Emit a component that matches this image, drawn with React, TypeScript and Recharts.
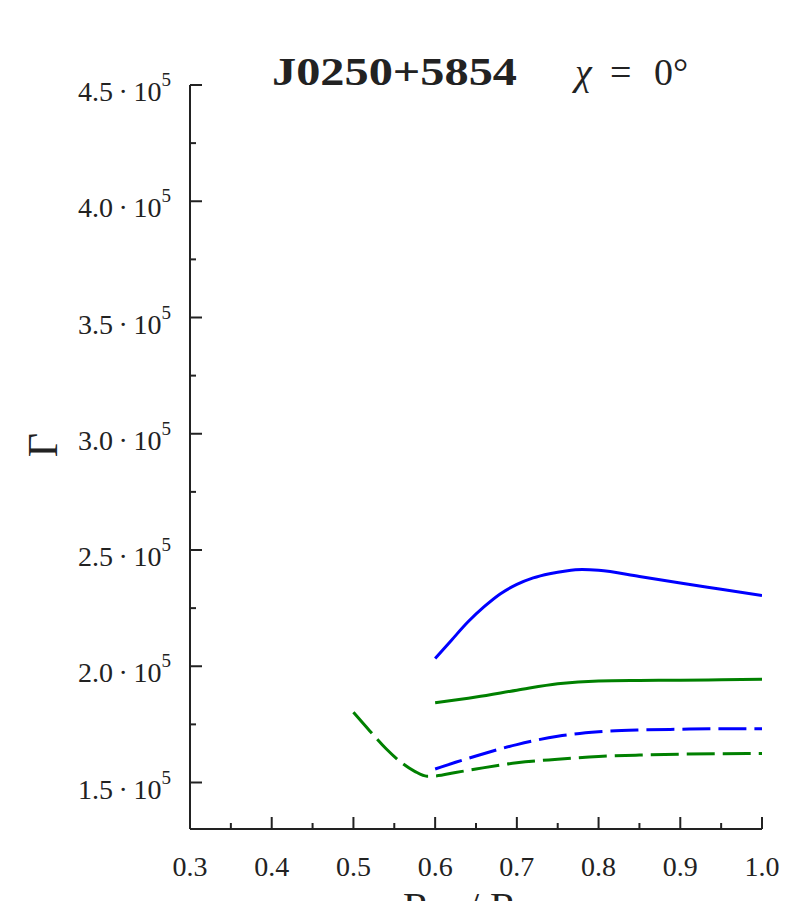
import React from "react";
import { Line, LineChart, XAxis, YAxis } from "recharts";

// Γ (in units of 1e5) vs R/R_lc
const blueSolidX = [0.6, 0.62, 0.64, 0.66, 0.68, 0.7, 0.72, 0.74, 0.76, 0.78, 0.8, 0.85, 0.9, 0.95, 1.0];
const blueSolidY = [2.033, 2.112, 2.19, 2.256, 2.312, 2.352, 2.38, 2.398, 2.41, 2.416, 2.413, 2.386, 2.358, 2.331, 2.304];

const greenSolidX = [0.6, 0.65, 0.7, 0.75, 0.8, 0.85, 0.9, 0.95, 1.0];
const greenSolidY = [1.843, 1.868, 1.897, 1.925, 1.937, 1.939, 1.94, 1.942, 1.944];

const blueDashedX = [0.6, 0.625, 0.65, 0.7, 0.75, 0.8, 0.85, 0.9, 0.95, 1.0];
const blueDashedY = [1.558, 1.587, 1.614, 1.663, 1.699, 1.718, 1.726, 1.729, 1.731, 1.731];

const greenDashedX = [0.5, 0.52, 0.54, 0.56, 0.575, 0.59, 0.6, 0.625, 0.65, 0.7, 0.75, 0.8, 0.85, 0.9, 0.95, 1.0];
const greenDashedY = [1.802, 1.722, 1.645, 1.582, 1.548, 1.527, 1.528, 1.543, 1.558, 1.585, 1.6, 1.612, 1.618, 1.622, 1.624, 1.625];

const xTicks = [0.3, 0.35, 0.4, 0.45, 0.5, 0.55, 0.6, 0.65, 0.7, 0.75, 0.8, 0.85, 0.9, 0.95, 1.0];
const xMajor = ["0.3", "0.4", "0.5", "0.6", "0.7", "0.8", "0.9", "1.0"];
const yTicks = [1.5, 1.75, 2.0, 2.25, 2.5, 2.75, 3.0, 3.25, 3.5, 3.75, 4.0, 4.25, 4.5].map((v) => v * 1e5);
const yMajor = ["1.5", "2.0", "2.5", "3.0", "3.5", "4.0", "4.5"];

const toPoints = (xs: number[], ys: number[]) => xs.map((x, i) => ({ x, y: ys[i] * 1e5 }));

const FONT = "Liberation Serif";
const INK = "#222";

function XTick(props: any) {
  const { x, y, payload } = props;
  const label = payload.value.toFixed(1);
  const major = xMajor.includes(label) && Math.abs(payload.value * 10 - Math.round(payload.value * 10)) < 1e-6;
  return (
    <g>
      <line x1={x} x2={x} y1={y} y2={y - (major ? 12 : 6)} stroke={INK} strokeWidth={2} />
      {major && (
        <text x={x} y={y + 47} textAnchor="middle" fontSize={28} fontFamily={FONT} fill={INK}>
          {label}
        </text>
      )}
    </g>
  );
}

function YTick(props: any) {
  const { x, y, payload } = props;
  const v = payload.value / 1e5;
  const label = v.toFixed(1);
  const major = yMajor.includes(label) && Math.abs(v * 2 - Math.round(v * 2)) < 1e-6;
  return (
    <g>
      <line x1={x} x2={x + (major ? 12 : 6)} y1={y} y2={y} stroke={INK} strokeWidth={2} />
      {major && (
        <text x={x - 19} y={y + 16} textAnchor="end" fontSize={28} fontFamily={FONT} fill={INK}>
          {label}
          {"\u2009·\u2009"}10
          <tspan dy={-15} fontSize={19}>
            5
          </tspan>
        </text>
      )}
    </g>
  );
}

export default function App() {
  return (
    <div style={{ position: "fixed", left: 0, top: 0, width: 804, height: 901, background: "#fff" }}>
      <LineChart width={804} height={901} margin={{ top: 85, right: 42, bottom: 12, left: 90 }}>
        <XAxis
          type="number"
          dataKey="x"
          domain={[0.3, 1.0]}
          ticks={xTicks}
          interval={0}
          height={60}
          tickSize={0}
          tickMargin={0}
          tickLine={false}
          axisLine={{ stroke: INK, strokeWidth: 2 }}
          tick={<XTick />}
          allowDataOverflow
        />
        <YAxis
          type="number"
          dataKey="y"
          domain={[130000, 450000]}
          ticks={yTicks}
          interval={0}
          width={100}
          tickSize={0}
          tickMargin={0}
          tickLine={false}
          axisLine={{ stroke: INK, strokeWidth: 2 }}
          tick={<YTick />}
          allowDataOverflow
        />
        <Line data={toPoints(blueSolidX, blueSolidY)} dataKey="y" type="monotone" stroke="#0000ff" strokeWidth={3} dot={false} isAnimationActive={false} />
        <Line data={toPoints(greenSolidX, greenSolidY)} dataKey="y" type="monotone" stroke="#008000" strokeWidth={3} dot={false} isAnimationActive={false} />
        <Line data={toPoints(blueDashedX, blueDashedY)} dataKey="y" type="monotone" stroke="#0000ff" strokeWidth={3} strokeDasharray="28 8" dot={false} isAnimationActive={false} />
        <Line data={toPoints(greenDashedX, greenDashedY)} dataKey="y" type="monotone" stroke="#008000" strokeWidth={3} strokeDasharray="28 8" dot={false} isAnimationActive={false} />
      </LineChart>
      <svg width={804} height={901} style={{ position: "absolute", left: 0, top: 0, pointerEvents: "none" }}>
        <text x={272} y={85} fontSize={40} fontWeight="bold" fontFamily={FONT} fill={INK} textLength={245} lengthAdjust="spacingAndGlyphs">
          J0250+5854
        </text>
        <text x={575} y={85} fontSize={38} fontStyle="italic" fontFamily={FONT} fill={INK}>
          χ
        </text>
        <text x={610} y={85} fontSize={38} fontFamily={FONT} fill={INK}>
          =
        </text>
        <text x={654} y={85} fontSize={38} fontFamily={FONT} fill={INK}>
          0°
        </text>
        <text x={57} y={445} fontSize={42} fontFamily={FONT} fill={INK} textAnchor="middle" transform="rotate(-90 57 445)">
          Γ
        </text>
        <text y={920} fontSize={40} fontFamily={FONT} fill={INK}>
          <tspan x={403}>R</tspan>
          <tspan fontSize={26} dy={8}>em</tspan>
          <tspan x={468} dy={-8}>/</tspan>
          <tspan x={490}>R</tspan>
          <tspan fontSize={26} dy={8}>lc</tspan>
        </text>
      </svg>
    </div>
  );
}
